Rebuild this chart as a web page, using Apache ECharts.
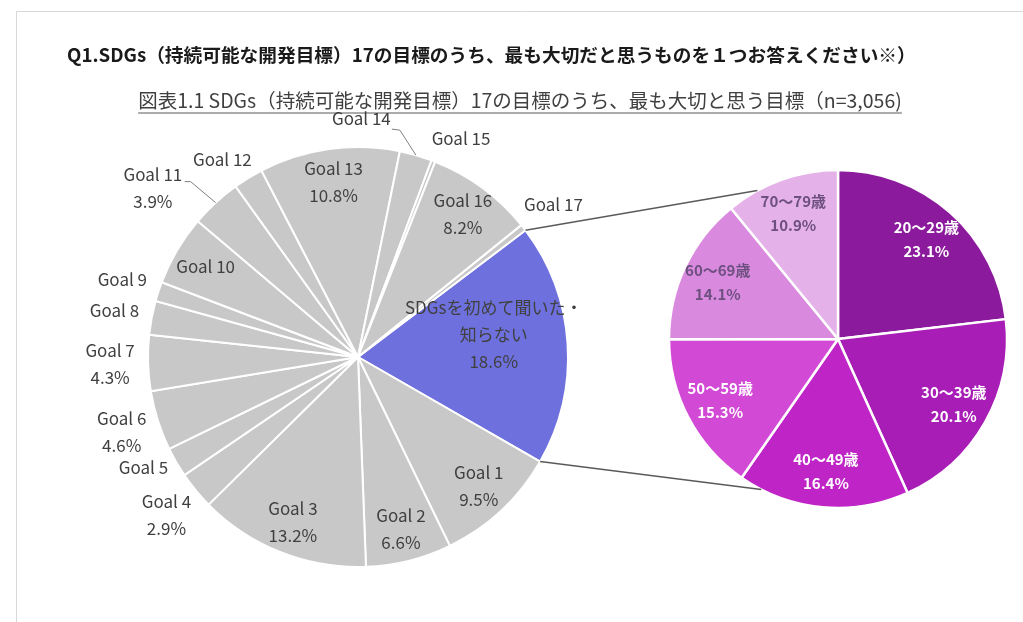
<!DOCTYPE html>
<html>
<head>
<meta charset="utf-8">
<script src="https://cdn.jsdelivr.net/npm/echarts@6/dist/echarts.min.js"></script>
<style>
html, body { margin: 0; padding: 0; background: #fff; }
#chart { width: 1023px; height: 622px; }
</style>
</head>
<body>
<div id="chart"></div>
<script>
// data
var goalNames = ['SDGsを初めて聞いた・\n知らない', 'Goal 1', 'Goal 2', 'Goal 3', 'Goal 4', 'Goal 5', 'Goal 6', 'Goal 7', 'Goal 8',
    'Goal 9', 'Goal 10', 'Goal 11', 'Goal 12', 'Goal 13', 'Goal 14', 'Goal 15', 'Goal 16', 'Goal 17'];
var goalValues = [18.6, 9.5, 6.6, 13.2, 2.9, 2.3, 4.6, 4.3, 2.6, 1.5, 5.4, 3.9, 2.3, 10.8, 2.5, 0.3, 8.2, 0.5];
// which labels show the percentage
var goalShowPct = [true, true, true, true, true, false, true, true, false, false, false, true, false, true, false, false, true, false];
var ageNames = ['20～29歳', '30～39歳', '40～49歳', '50～59歳', '60～69歳', '70～79歳'];
var ageValues = [23.1, 20.1, 16.4, 15.3, 14.1, 10.9];

var titleText = 'Q1.SDGs（持続可能な開発目標）17の目標のうち、最も大切だと思うものを１つお答えください※）';
var subText = '図表1.1 SDGs（持続可能な開発目標）17の目標のうち、最も大切と思う目標（n=3,056)';

var FONT = '"Noto Sans CJK JP", "Noto Sans", sans-serif';
var C1 = [358, 357], R1 = 210, START1 = 37.1;
var C2 = [838, 339], R2 = 169;
var insideGoals = ['Goal 1', 'Goal 2', 'Goal 3', 'Goal 10', 'Goal 13', 'Goal 16'];
// label nudges: dx in px (via padding), dy in half lines (+ down, - up)
var nudge = {
    'Goal 11': { dx: -37, dy: 1 }, 'Goal 14': { dx: -65, dy: 0 }, 'Goal 5': { dx: 0, dy: -1 },
    'Goal 12': { dx: -6, dy: 1 }, 'Goal 15': { dx: 14, dy: 1 }
};
nudge[goalNames[0]] = { dx: 0, dy: -1 };
var ageColors = ['#8c1a9c', '#a81db6', '#bf24c6', '#d249d6', '#d98ade', '#e4b1e8'];
var ageLabelColors = ['#fff', '#fff', '#fff', '#fff', '#6e5080', '#6e5080'];

function pct(v) { return v.toFixed(1) + '%'; }
function nudgeText(name, text) {
    var n = nudge[name];
    if (!n) return text;
    if (n.dy > 0) return '\n'.repeat(n.dy) + text;
    if (n.dy < 0) return text + '\n '.repeat(-n.dy);
    return text;
}
function nudgePad(name) {
    var n = nudge[name];
    if (!n || !n.dx) return 0;
    return n.dx < 0 ? [0, -2 * n.dx, 0, 0] : [0, 0, 0, 2 * n.dx];
}
function goalText(i) { return nudgeText(goalNames[i], goalNames[i] + (goalShowPct[i] ? '\n' + pct(goalValues[i]) : '')); }

var chart = echarts.init(document.getElementById('chart'));

function goalData(which) {
    return goalNames.map(function (n, i) {
        var show = false;
        if (which === 'blue') show = i === 0;
        if (which === 'inner') show = insideGoals.indexOf(n) >= 0;
        if (which === 'outer') show = i > 0 && insideGoals.indexOf(n) < 0;
        return {
            name: n,
            value: goalValues[i],
            itemStyle: which === 'main' ? { color: i === 0 ? '#6e71dd' : '#c8c8c8' } : undefined,
            label: { show: show, formatter: goalText(i), padding: nudgePad(n) }
        };
    });
}

function overlay(data, center, radius, start, labelStyle) {
    return {
        type: 'pie', center: center, radius: radius, startAngle: start, silent: true,
        avoidLabelOverlap: false,
        labelLayout: { hideOverlap: false },
        itemStyle: { color: 'rgba(0,0,0,0)', borderWidth: 0 },
        label: Object.assign({ position: 'inside', fontFamily: FONT }, labelStyle),
        labelLine: { show: false },
        emphasis: { disabled: true },
        data: data
    };
}

// slice geometry for the connector lines
var total = goalValues.reduce(function (a, b) { return a + b; }, 0);
function midAngle(idx) {
    var acc = 0;
    for (var i = 0; i < idx; i++) acc += goalValues[i];
    return (-START1 + (acc + goalValues[idx] / 2) / total * 360) * Math.PI / 180;
}
function rimPoint(c, r, a) { return [c[0] + r * Math.cos(a), c[1] + r * Math.sin(a)]; }
var blueA1 = -START1 * Math.PI / 180;
var blueA2 = (-START1 + goalValues[0] / total * 360) * Math.PI / 180;
var linkAngles = [241.5 * Math.PI / 180, 117 * Math.PI / 180];

var p11 = rimPoint(C1, R1, midAngle(goalNames.indexOf('Goal 11')));
var p14 = rimPoint(C1, R1, midAngle(goalNames.indexOf('Goal 14')));

// underline width for the subtitle
var SUB_FONT = '19.5px ' + FONT;
var ctx = document.createElement('canvas').getContext('2d');
ctx.font = SUB_FONT;
var subW = ctx.measureText(subText).width;
var subX = 520;

var lineStyle = { stroke: '#5a5a5a', lineWidth: 1.5, fill: 'none' };

var option = {
    backgroundColor: '#fff',
    animation: false,
    graphic: [
        { type: 'rect', silent: true, z: -10, shape: { x: 16.5, y: 11.5, width: 1100, height: 700 },
          style: { fill: 'none', stroke: '#d8d8d8', lineWidth: 1 } },
        { type: 'text', x: 67, y: 55, style: { text: titleText, font: 'bold 18.7px ' + FONT, fill: '#1a1a1a', verticalAlign: 'middle' } },
        { type: 'text', x: subX, y: 101, style: { text: subText, font: SUB_FONT, fill: '#404040', align: 'center', verticalAlign: 'middle' } },
        { type: 'line', shape: { x1: subX - subW / 2, y1: 113, x2: subX + subW / 2, y2: 113 }, style: { stroke: '#595959', lineWidth: 1 } },
        { type: 'line', z: 10, shape: (function () { var a = rimPoint(C1, R1, blueA1), b = rimPoint(C2, R2, linkAngles[0]); return { x1: a[0], y1: a[1], x2: b[0], y2: b[1] }; })(), style: lineStyle },
        { type: 'line', z: 10, shape: (function () { var a = rimPoint(C1, R1, blueA2), b = rimPoint(C2, R2, linkAngles[1]); return { x1: a[0], y1: a[1], x2: b[0], y2: b[1] }; })(), style: lineStyle },
        { type: 'polyline', z: 10, shape: { points: [p11, [p11[0] - 25, p11[1] - 21], [p11[0] - 31, p11[1] - 21]] }, style: { stroke: '#7f7f7f', lineWidth: 1, fill: 'none' } },
        { type: 'polyline', z: 10, shape: { points: [p14, [p14[0] - 16, p14[1] - 25], [p14[0] - 24, p14[1] - 26]] }, style: { stroke: '#7f7f7f', lineWidth: 1, fill: 'none' } }
    ],
    series: [
        {
            type: 'pie', center: C1, radius: R1, startAngle: START1, silent: true,
            itemStyle: { borderColor: '#fff', borderWidth: 2 },
            label: { show: false }, labelLine: { show: false },
            data: goalData('main')
        },
        overlay(goalData('inner'), C1, [138, R1], START1, { fontSize: 17, lineHeight: 27, color: '#404040' }),
        overlay(goalData('blue'), C1, [56, R1], START1, { fontSize: 17, lineHeight: 27, color: '#404040' }),
        overlay(goalData('outer'), C1, [225, 265], START1, { fontSize: 17, lineHeight: 27, color: '#404040' }),
        {
            type: 'pie', center: C2, radius: R2, startAngle: 90, silent: true,
            itemStyle: { borderColor: '#fff', borderWidth: 2.5 },
            label: { show: false }, labelLine: { show: false },
            data: ageNames.map(function (n, i) { return { name: n, value: ageValues[i], itemStyle: { color: ageColors[i] } }; })
        },
        overlay(ageNames.map(function (n, i) {
            return { name: n, value: ageValues[i], label: { show: true, color: ageLabelColors[i], formatter: n + '\n' + pct(ageValues[i]) } };
        }), C2, [91, R2], 90, { fontSize: 15, fontWeight: 'bold', lineHeight: 24 })
    ]
};

chart.setOption(option);
</script>
</body>
</html>
